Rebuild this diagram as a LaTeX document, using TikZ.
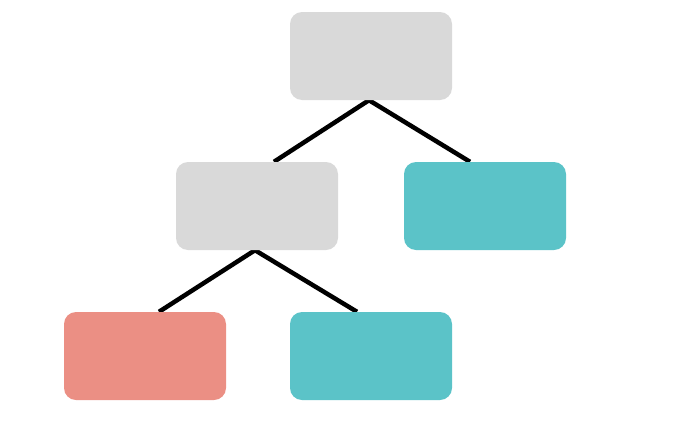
\documentclass[tikz,border=0pt]{standalone}
\usetikzlibrary{calc,backgrounds}
\definecolor{boxgray}{HTML}{D9D9D9}
\definecolor{boxteal}{HTML}{5BC3C8}
\definecolor{boxsalmon}{HTML}{EB8F84}
\tikzset{
  treebox/.style={rectangle, rounded corners=12pt, minimum width=162pt, minimum height=88pt, inner sep=0pt, draw=none},
  treeedge/.style={line width=4.5pt, black},
}
\begin{document}
\begin{tikzpicture}[x=1pt,y=-1pt]
\useasboundingbox (0,0) rectangle (694,426);
\node[treebox, fill=boxgray] (top) at (371,56) {};
\node[treebox, fill=boxgray] (ml) at (257,206) {};
\node[treebox, fill=boxteal] (mr) at (485,206) {};
\node[treebox, fill=boxsalmon] (bl) at (145,356) {};
\node[treebox, fill=boxteal] (bm) at (371,356) {};
\begin{scope}[on background layer]
\coordinate (e1) at ($(ml.north)+(17,0)$);
\coordinate (e2) at ($(mr.north)+(-15,0)$);
\coordinate (e3) at ($(bl.north)+(14,0)$);
\coordinate (e4) at ($(bm.north)+(-14,0)$);
\coordinate (a1) at ($(top.south)+(-2,0)$);
\coordinate (a2) at ($(ml.south)+(-2,0)$);
\draw[treeedge] (e1) -- (a1) -- (e2);
\draw[treeedge] (e3) -- (a2) -- (e4);
\end{scope}
\end{tikzpicture}
\end{document}
